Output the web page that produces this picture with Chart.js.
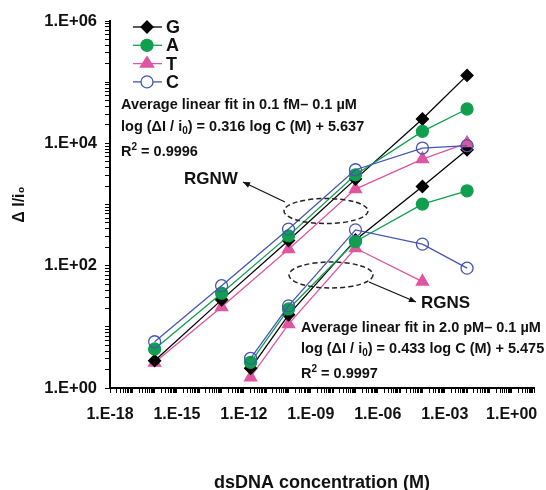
<!DOCTYPE html>
<html><head><meta charset="utf-8">
<script src="https://cdn.jsdelivr.net/npm/chart.js@4/dist/chart.umd.min.js"></script>
<style>
html,body{margin:0;padding:0;background:#fff;}
#wrap{position:relative;width:546px;height:490px;overflow:hidden;}
canvas{display:block;}
.ann{position:absolute;font-family:"Liberation Sans",Arial,Helvetica,sans-serif;font-weight:bold;font-size:14.5px;color:#111;white-space:nowrap;line-height:1;}
.big{font-size:17px;}
.sub{font-size:10px;position:relative;top:3px;}
.sup{font-size:10px;position:relative;top:-6px;}
</style></head><body>
<div id="wrap">
<canvas id="c" width="546" height="490"></canvas>
<div class="ann" style="left:121px;top:97px">Average linear fit in 0.1 fM– 0.1 µM</div>
<div class="ann" style="left:121px;top:119px">log (ΔI / i<span class="sub">0</span>) = 0.316 log C (M) + 5.637</div>
<div class="ann" style="left:121px;top:144px">R<span class="sup">2</span> = 0.9996</div>
<div class="ann big" style="left:184px;top:170px">RGNW</div>
<div class="ann big" style="left:421px;top:294px">RGNS</div>
<div class="ann" style="left:301px;top:320px">Average linear fit in 2.0 pM– 0.1 µM</div>
<div class="ann" style="left:301px;top:341px">log (ΔI / i<span class="sub">0</span>) = 0.433 log C (M) + 5.475</div>
<div class="ann" style="left:301px;top:366px">R<span class="sup">2</span> = 0.9997</div>
</div>
<script>
// ---- data ----
const concRGNW = [1e-16, 1e-13, 1e-10, 1e-7, 1e-4, 1e-2];
const concRGNS = [2e-12, 1e-10, 1e-7, 1e-4, 1e-2];
const rgnwG = [2.8, 27.6, 257, 2600, 25000, 129000];
const rgnwA = [4.35, 35.5, 307, 3060, 15700, 36400];
const rgnwT = [2.6, 21, 186, 1790, 5530, 10100];
const rgnwC = [5.7, 47, 396, 3700, 8380, 9140];
const rgnsG = [2.1, 15.7, 264, 1970, 7850];
const rgnsA = [2.63, 19.6, 248, 1015, 1675];
const rgnsT = [1.5, 11.1, 193, 55];
const rgnsC = [3.06, 22, 385, 225, 91];
const seriesNames = ['G', 'A', 'T', 'C'];
const xLabelExps = [-18, -15, -12, -9, -6, -3, 0];
const yLabelExps = [0, 2, 4, 6];
const xTitle = 'dsDNA concentration (M)';
const yTitle = 'Δ I/i₀';

// ---- styles ----
const FONT = '"Liberation Sans", Arial, Helvetica, sans-serif';
const styles = {
  G: {color: '#000000', pointStyle: 'rectRot', radius: 6, fill: '#000000'},
  A: {color: '#0f9f4f', pointStyle: 'circle', radius: 6, fill: '#0f9f4f'},
  T: {color: '#e0559f', pointStyle: 'triangle', radius: 7, fill: '#e0559f'},
  C: {color: '#4656b0', pointStyle: 'circle', radius: 6, fill: 'rgba(255,255,255,0)'}
};

function pts(xs, ys) { return ys.map((y, i) => ({x: xs[i], y: y})); }
function ds(name, xs, ys) {
  const s = styles[name];
  return {
    label: name, data: pts(xs, ys),
    borderColor: s.color, backgroundColor: s.fill,
    borderWidth: 1.3, tension: 0,
    pointStyle: s.pointStyle, pointRadius: s.radius,
    pointBackgroundColor: s.fill, pointBorderColor: s.color, pointBorderWidth: 1.3
  };
}
const datasets = [
  ds('C', concRGNW, rgnwC), ds('A', concRGNW, rgnwA), ds('G', concRGNW, rgnwG), ds('T', concRGNW, rgnwT),
  ds('C', concRGNS, rgnsC), ds('A', concRGNS, rgnsA), ds('G', concRGNS, rgnsG), ds('T', concRGNS, rgnsT)
];

function pad2(n) { return (n < 10 ? '0' : '') + n; }
function expLabel(e) { return e < 0 ? '1.E-' + pad2(-e) : '1.E+' + pad2(e); }
function logTicks(lo, hi) {
  const t = [];
  for (let n = lo; n < hi; n++) for (let m = 1; m <= 9; m++) t.push(Number(m + 'e' + n));
  t.push(Number('1e' + hi));
  return t;
}
function labelFor(v, exps) {
  const e = Math.round(Math.log10(v));
  const p = Number('1e' + e);
  if (Math.abs(v - p) / p < 1e-9 && exps.indexOf(e) >= 0) return expLabel(e);
  return '';
}

function drawMarker(ctx, style, r, x, y) {
  ctx.beginPath();
  if (style === 'circle') {
    ctx.arc(x, y, r, 0, Math.PI * 2);
  } else if (style === 'rectRot') {
    ctx.moveTo(x, y - r); ctx.lineTo(x + r, y); ctx.lineTo(x, y + r); ctx.lineTo(x - r, y); ctx.closePath();
  } else if (style === 'triangle') {
    const w = r * Math.sqrt(3) / 2 * 1.1;
    ctx.moveTo(x, y - r); ctx.lineTo(x + w, y + r * 0.5); ctx.lineTo(x - w, y + r * 0.5); ctx.closePath();
  }
  ctx.fill(); ctx.stroke();
}

const decor = {
  id: 'decor',
  afterDraw(chart) {
    const ctx = chart.ctx;
    ctx.save();
    // legend
    seriesNames.forEach((n, i) => {
      const s = styles[n];
      const y = 27 + i * 18.3;
      ctx.lineWidth = 1.3; ctx.strokeStyle = s.color;
      ctx.beginPath(); ctx.moveTo(133, y); ctx.lineTo(162, y); ctx.stroke();
      ctx.fillStyle = s.fill === 'rgba(255,255,255,0)' ? '#ffffff' : s.fill;
      drawMarker(ctx, s.pointStyle, s.radius, 147, y);
      ctx.fillStyle = '#111'; ctx.font = 'bold 18px ' + FONT;
      ctx.textBaseline = 'middle'; ctx.textAlign = 'left';
      ctx.fillText(n, 166, y + 1);
    });
    // dashed ellipses
    ctx.strokeStyle = '#222'; ctx.lineWidth = 1.5; ctx.setLineDash([5, 3]);
    ctx.beginPath(); ctx.ellipse(326, 211, 42, 12.5, 0, 0, Math.PI * 2); ctx.stroke();
    ctx.beginPath(); ctx.ellipse(331, 275, 42, 13, 0, 0, Math.PI * 2); ctx.stroke();
    ctx.setLineDash([]);
    // arrows
    function arrow(x1, y1, x2, y2) {
      ctx.strokeStyle = '#111'; ctx.fillStyle = '#111'; ctx.lineWidth = 1.2;
      ctx.beginPath(); ctx.moveTo(x1, y1); ctx.lineTo(x2, y2); ctx.stroke();
      const a = Math.atan2(y2 - y1, x2 - x1), L = 7, W = 3;
      ctx.beginPath();
      ctx.moveTo(x2, y2);
      ctx.lineTo(x2 - L * Math.cos(a) + W * Math.sin(a), y2 - L * Math.sin(a) - W * Math.cos(a));
      ctx.lineTo(x2 - L * Math.cos(a) - W * Math.sin(a), y2 - L * Math.sin(a) + W * Math.cos(a));
      ctx.closePath(); ctx.fill();
    }
    arrow(285, 202, 243, 182);
    arrow(369, 282, 416, 302);
    ctx.restore();
  }
};

new Chart(document.getElementById('c'), {
  type: 'line',
  data: {datasets: datasets},
  options: {
    responsive: false, animation: false, devicePixelRatio: 1,
    layout: {padding: {top: 21, right: 8, left: 0, bottom: 0}},
    plugins: {legend: {display: false}, tooltip: {enabled: false}},
    elements: {line: {fill: false}},
    scales: {
      x: {
        type: 'logarithmic', position: 'bottom', min: 1e-18, max: 1e1,
        afterBuildTicks: s => { s.ticks = logTicks(-18, 1).map(v => ({value: v})); },
        afterFit: s => { s.height = 102; },
        grid: {drawOnChartArea: false, drawTicks: true, tickLength: 5, color: '#000', lineWidth: 1},
        border: {display: true, color: '#000', width: 2},
        ticks: {autoSkip: false, maxRotation: 0, minRotation: 0, padding: 12, color: '#111',
          font: {family: FONT, weight: 'bold', size: 16},
          callback: v => labelFor(v, xLabelExps)},
        title: {display: true, text: xTitle, color: '#111',
          font: {family: FONT, weight: 'bold', size: 18, lineHeight: 0.8}, padding: {top: 0, bottom: 0}}
      },
      y: {
        type: 'logarithmic', position: 'left', min: 1, max: 1e6,
        afterBuildTicks: s => { s.ticks = logTicks(0, 6).map(v => ({value: v})); },
        afterFit: s => { s.width = 110; },
        grid: {drawOnChartArea: false, drawTicks: true, tickLength: 5, color: '#000', lineWidth: 1},
        border: {display: true, color: '#000', width: 2},
        ticks: {autoSkip: false, padding: 8, color: '#111',
          font: {family: FONT, weight: 'bold', size: 16.5},
          callback: v => labelFor(v, yLabelExps)},
        title: {display: true, text: yTitle, color: '#111',
          font: {family: FONT, weight: 'bold', size: 16, lineHeight: 1.2}, padding: {top: 10, bottom: 0}}
      }
    }
  },
  plugins: [decor]
});
</script>
</body></html>
